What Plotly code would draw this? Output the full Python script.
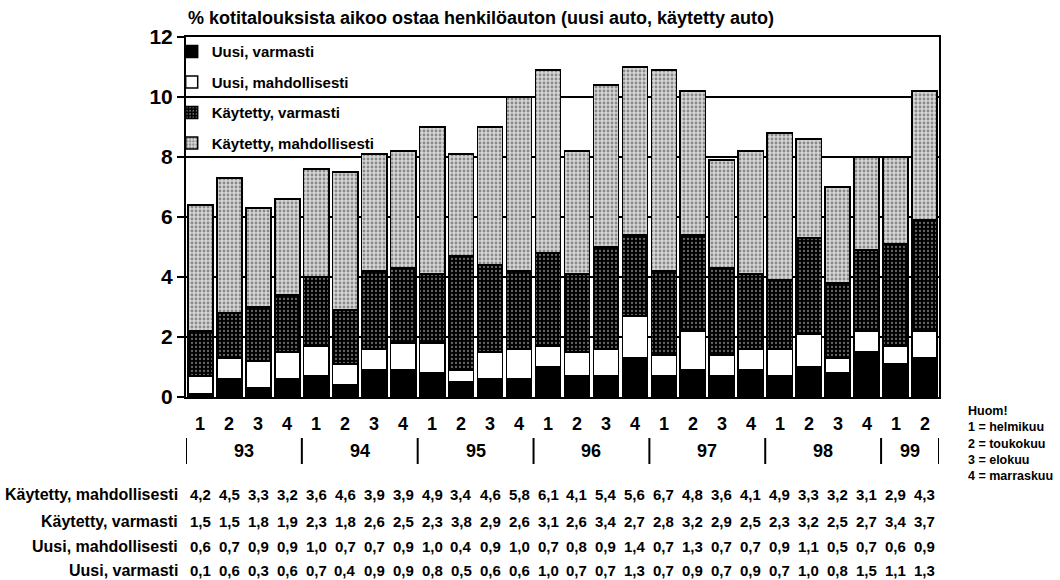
import plotly.graph_objects as go

# Survey rounds: quarter index within each year
quarters = ["1", "2", "3", "4"] * 6 + ["1", "2"]
years = ["93", "94", "95", "96", "97", "98", "99"]
year_sizes = [4, 4, 4, 4, 4, 4, 2]

# % of households planning to buy a car
uusi_varmasti = [0.1, 0.6, 0.3, 0.6, 0.7, 0.4, 0.9, 0.9, 0.8, 0.5, 0.6, 0.6, 1.0,
                 0.7, 0.7, 1.3, 0.7, 0.9, 0.7, 0.9, 0.7, 1.0, 0.8, 1.5, 1.1, 1.3]
uusi_mahdollisesti = [0.6, 0.7, 0.9, 0.9, 1.0, 0.7, 0.7, 0.9, 1.0, 0.4, 0.9, 1.0, 0.7,
                      0.8, 0.9, 1.4, 0.7, 1.3, 0.7, 0.7, 0.9, 1.1, 0.5, 0.7, 0.6, 0.9]
kaytetty_varmasti = [1.5, 1.5, 1.8, 1.9, 2.3, 1.8, 2.6, 2.5, 2.3, 3.8, 2.9, 2.6, 3.1,
                     2.6, 3.4, 2.7, 2.8, 3.2, 2.9, 2.5, 2.3, 3.2, 2.5, 2.7, 3.4, 3.7]
kaytetty_mahdollisesti = [4.2, 4.5, 3.3, 3.2, 3.6, 4.6, 3.9, 3.9, 4.9, 3.4, 4.6, 5.8, 6.1,
                          4.1, 5.4, 5.6, 6.7, 4.8, 3.6, 4.1, 4.9, 3.3, 3.2, 3.1, 2.9, 4.3]

series = [
    ("Uusi, varmasti", uusi_varmasti),
    ("Uusi, mahdollisesti", uusi_mahdollisesti),
    ("Käytetty, varmasti", kaytetty_varmasti),
    ("Käytetty, mahdollisesti", kaytetty_mahdollisesti),
]

FONT = "Liberation Sans, Arial, sans-serif"
W, H = 1060, 580
L, R, T, B = 186, 939, 37, 397  # plot area in pixels

def py(p):
    return (B - p) / (B - T)

def px(p):
    return (p - L) / (R - L)

styles = {
    "Uusi, varmasti": dict(color="black"),
    "Uusi, mahdollisesti": dict(color="white"),
    "Käytetty, varmasti": dict(color="black",
                               pattern=dict(shape=".", bgcolor="black", fgcolor="#d0d0d0",
                                            size=4, solidity=0.25)),
    "Käytetty, mahdollisesti": dict(color="#d0d0d0",
                                    pattern=dict(shape=".", bgcolor="#d6d6d6", fgcolor="#3c3c3c",
                                                 size=4, solidity=0.4)),
}

x = list(range(len(quarters)))
fig = go.Figure()
for i, (name, vals) in enumerate(series):
    fig.add_trace(go.Bar(
        x=x, y=vals, name=f"<b>{name}</b>", legendgroup=f"g{i}",
        marker=dict(line=dict(color="black", width=1.5), **styles[name]),
        hovertemplate=name + ": %{y}<extra></extra>",
    ))

ann = []
# quarter numbers
for xi, q in zip(x, quarters):
    ann.append(dict(x=xi, y=py(424), xref="x", yref="paper", text=f"<b>{q}</b>",
                    showarrow=False, font=dict(size=18, family=FONT, color="black"),
                    yanchor="middle"))
# year labels and separators
shapes = []
start = 0
for yr, n in zip(years, year_sizes):
    ann.append(dict(x=start + (n - 1) / 2, y=py(451), xref="x", yref="paper",
                    text=f"<b>{yr}</b>", showarrow=False,
                    font=dict(size=18, family=FONT, color="black"), yanchor="middle"))
    shapes.append(dict(type="line", xref="x", yref="paper", x0=start - 0.5, x1=start - 0.5,
                       y0=py(438), y1=py(464), line=dict(color="black", width=2)))
    start += n
shapes.append(dict(type="line", xref="x", yref="paper", x0=start - 0.5, x1=start - 0.5,
                   y0=py(438), y1=py(464), line=dict(color="black", width=2)))

# data table under the chart
row_y = [494, 521, 546, 570]
for (name, vals), ry in zip(reversed(series), row_y):
    ann.append(dict(x=px(180), y=py(ry), xref="paper", yref="paper", text=f"<b>{name}</b>",
                    showarrow=False, xanchor="right", yanchor="middle",
                    font=dict(size=16, family=FONT, color="black")))
    for xi, v in zip(x, vals):
        ann.append(dict(x=xi, y=py(ry), xref="x", yref="paper",
                        text=f"<b>{v:.1f}</b>".replace(".", ","), showarrow=False,
                        yanchor="middle", font=dict(size=15, family=FONT, color="black")))

# month key
ann.append(dict(x=px(966), y=py(402), xref="paper", yref="paper", xanchor="left", yanchor="top",
                align="left", showarrow=False,
                text="<b>Huom!<br>1 = helmikuu<br>2 = toukokuu<br>3 = elokuu<br>4 = marraskuu</b>",
                font=dict(size=12.5, family=FONT, color="black")))

# title
ann.append(dict(x=0, y=py(18), xref="paper", yref="paper", xanchor="left", yanchor="middle",
                showarrow=False,
                text="<b>% kotitalouksista aikoo ostaa henkilöauton (uusi auto, käytetty auto)</b>",
                font=dict(size=18, family=FONT, color="black")))

fig.update_layout(
    width=W, height=H,
    margin=dict(l=L, r=W - R, t=T, b=H - B, pad=0),
    paper_bgcolor="white", plot_bgcolor="white",
    barmode="stack", bargap=0.13,
    font=dict(family=FONT, color="black"),
    showlegend=True,
    legend=dict(x=-0.019, y=1.005, xanchor="left", yanchor="top", traceorder="grouped",
                bgcolor="rgba(0,0,0,0)", tracegroupgap=8, itemwidth=30,
                font=dict(size=15, family=FONT, color="black")),
    annotations=ann, shapes=shapes,
)
fig.update_xaxes(range=[-0.5, len(x) - 0.5], showticklabels=False, ticks="",
                 showgrid=False, zeroline=False, showline=True, linecolor="black",
                 linewidth=2, mirror=True)
fig.update_yaxes(range=[0, 12], dtick=2, ticks="outside", ticklen=7, tickwidth=1.5,
                 tickcolor="black", showgrid=True, gridcolor="black", gridwidth=1.5,
                 zeroline=False, showline=True, linecolor="black", linewidth=2, mirror=True,
                 tickfont=dict(size=21, family=FONT, color="black"),
                 tickprefix="<b>", ticksuffix="</b>")

fig.write_html("out.html")
